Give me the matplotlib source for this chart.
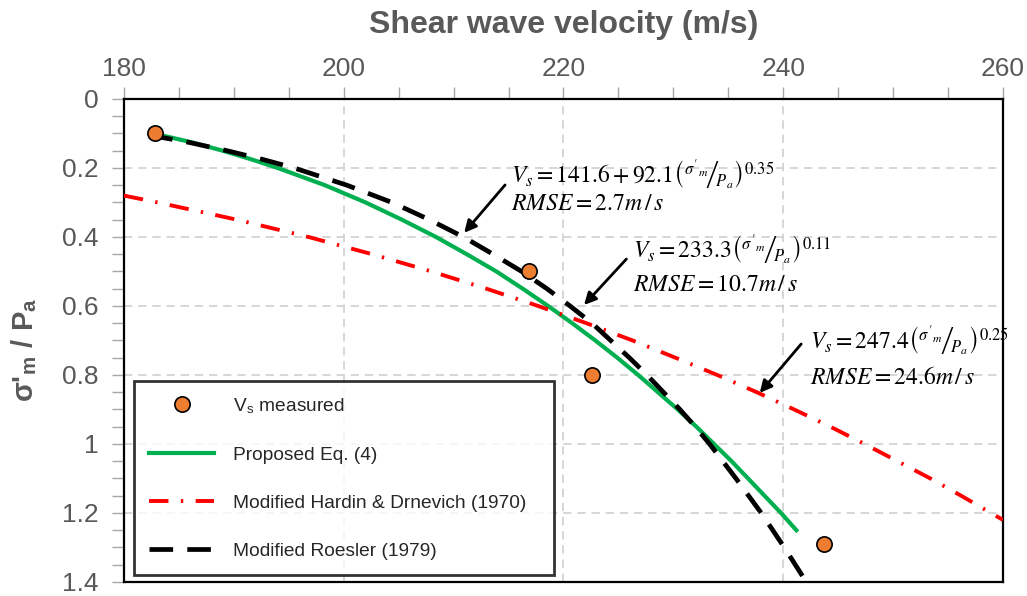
import matplotlib
matplotlib.use('Agg')
import matplotlib.pyplot as plt
from matplotlib.ticker import MultipleLocator

plt.rcParams['font.family'] = ['Liberation Sans', 'DejaVu Sans']
plt.rcParams['mathtext.fontset'] = 'stix'

# measured points
vs_meas = [182.8, 216.9, 222.6, 243.7]
sig_meas = [0.10, 0.50, 0.80, 1.29]

# proposed eq. (4)
sig_prop = [0.10, 0.125, 0.15, 0.175, 0.20, 0.25, 0.30, 0.35, 0.40, 0.45, 0.50, 0.55, 0.60, 0.65, 0.70, 0.75,
            0.80, 0.85, 0.90, 0.95, 1.00, 1.05, 1.10, 1.15, 1.20, 1.25]
vs_prop = [182.7, 186.1, 189.0, 191.6, 194.0, 198.3, 202.0, 205.3, 208.4, 211.2, 213.9, 216.3, 218.6, 220.8,
           222.9, 224.9, 226.8, 228.6, 230.4, 232.1, 233.7, 235.3, 236.8, 238.3, 239.8, 241.2]

# modified Hardin & Drnevich (1970)
sig_hd = [0.28, 0.30, 0.35, 0.40, 0.45, 0.50, 0.55, 0.60, 0.65, 0.70, 0.75, 0.80, 0.85, 0.90, 0.95, 1.00,
          1.05, 1.10, 1.15, 1.20, 1.22]
vs_hd = [180.0, 183.1, 190.3, 196.8, 202.6, 208.0, 213.0, 217.7, 222.1, 226.3, 230.2, 234.0, 237.6, 241.0,
         244.3, 247.4, 250.4, 253.4, 256.2, 258.9, 260.0]

# modified Roesler (1979)
sig_ro = [0.105, 0.125, 0.15, 0.175, 0.20, 0.25, 0.30, 0.35, 0.40, 0.45, 0.50, 0.55, 0.60, 0.65, 0.70, 0.75,
          0.80, 0.85, 0.90, 0.95, 1.00, 1.10, 1.20, 1.30, 1.40, 1.45]
vs_ro = [182.3, 185.8, 189.4, 192.6, 195.5, 200.3, 204.4, 207.8, 210.9, 213.6, 216.2, 218.5, 220.6, 222.6,
         224.3, 226.0, 227.6, 229.1, 230.6, 232.0, 233.3, 235.7, 238.0, 240.1, 242.1, 243.0]

gray = '#595959'

fig = plt.figure(figsize=(10.27, 5.96), dpi=100)
ax = fig.add_axes([0.1207, 0.0235, 0.8559, 0.8104])

ax.plot(vs_prop, sig_prop, color='#00B050', lw=3, label='Proposed Eq. (4)', zorder=3)
ax.plot(vs_hd, sig_hd, color='#FF0000', lw=2.8, linestyle=(0, (5, 3.2, 0.6, 3.2)),
        label='Modified Hardin & Drnevich (1970)', zorder=3)
ax.plot(vs_ro, sig_ro, color='black', lw=3.4, linestyle=(0, (5, 3)),
        label='Modified Roesler (1979)', zorder=4)
ax.plot(vs_meas, sig_meas, 'o', color='#ED7D31', mec='black', mew=1.2, ms=11,
        label=r'V$_\mathregular{s}$ measured', zorder=5)

ax.set_xlim(180, 260)
ax.set_ylim(1.4, 0)
ax.xaxis.set_major_locator(MultipleLocator(20))
ax.xaxis.set_minor_locator(MultipleLocator(5))
ax.yaxis.set_major_locator(MultipleLocator(0.2))
ax.yaxis.set_minor_locator(MultipleLocator(0.05))
ax.yaxis.set_major_formatter(lambda v, p: f'{v:.1f}'.rstrip('0').rstrip('.') if v != 0 else '0')
ax.xaxis.tick_top()
ax.xaxis.set_label_position('top')
ax.tick_params(which='both', direction='out', color='#A6A6A6', labelcolor=gray, labelsize=19)
ax.tick_params(which='both', length=9, width=1)
ax.tick_params(axis='x', pad=4)
ax.tick_params(axis='y', pad=9)
ax.grid(True, which='major', color='#D0D0D0', linestyle=(0, (5, 3.5)), lw=1.2)
for s in ax.spines.values():
    s.set_color('black')
    s.set_linewidth(1.6)

ax.set_xlabel('Shear wave velocity (m/s)', fontsize=23, fontweight='bold', color=gray, labelpad=17)
ax.set_ylabel(r"σ'$_\mathregular{m}$ / P$_\mathregular{a}$", fontsize=21, fontweight='bold', color=gray)
ax.yaxis.set_label_coords(-0.097, 0.48)

# equations and arrows
eq_kw = dict(fontsize=17, color='black', va='center', ha='left')
frac = r"\left({}^{\sigma'_m}\!\middle/\!{}_{P_a}\right)"
ax.text(215.2, 0.218, r"$V_s = 141.6 + 92.1" + frac + r"^{0.35}$", **eq_kw)
ax.text(215.2, 0.303, r"$RMSE = 2.7m\,/\,s$", **eq_kw)
ax.text(226.3, 0.438, r"$V_s = 233.3" + frac + r"^{0.11}$", **eq_kw)
ax.text(226.3, 0.539, r"$RMSE = 10.7m\,/\,s$", **eq_kw)
ax.text(242.4, 0.699, r"$V_s = 247.4" + frac + r"^{0.25}$", **eq_kw)
ax.text(242.4, 0.809, r"$RMSE = 24.6m\,/\,s$", **eq_kw)

arr = dict(arrowstyle='-|>', color='black', lw=2, mutation_scale=18)
ax.annotate('', xy=(210.8, 0.394), xytext=(214.85, 0.243), arrowprops=arr, zorder=6)
ax.annotate('', xy=(221.7, 0.603), xytext=(225.9, 0.458), arrowprops=arr, zorder=6)
ax.annotate('', xy=(237.7, 0.858), xytext=(241.8, 0.704), arrowprops=arr, zorder=6)

h, l = ax.get_legend_handles_labels()
order = [3, 0, 1, 2]
leg = ax.legend([h[i] for i in order], [l[i] for i in order], loc='lower left',
                bbox_to_anchor=(0.011, 0.014, 0.478, 0.41), mode='expand', fontsize=13.8,
                frameon=True, fancybox=False, handlelength=3.4, handletextpad=1.0,
                labelspacing=1.6, borderpad=0.8, borderaxespad=0, labelcolor='#262626')
leg.get_frame().set_edgecolor('black')
leg.get_frame().set_linewidth(2)
leg.set_zorder(10)

fig.savefig('out.png', dpi=100)
